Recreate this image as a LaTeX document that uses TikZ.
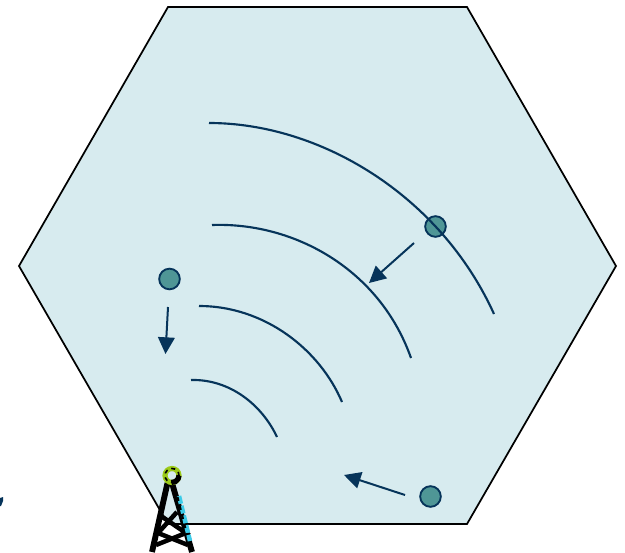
\documentclass[tikz,border=0pt]{standalone}
\usetikzlibrary{arrows.meta}
\definecolor{cellfill}{HTML}{D7EBEF}
\definecolor{navy}{HTML}{06345A}
\definecolor{dotfill}{HTML}{4F9696}
\definecolor{ringgreen}{HTML}{9CCB19}
\definecolor{legcyan}{HTML}{3CCBE8}
\tikzset{
  wave/.style={draw=navy,line width=1.6pt},
  move/.style={draw=navy,line width=1.5pt,-{Triangle[length=12.5pt,width=12.5pt]}},
  user/.style={circle,draw=navy,fill=dotfill,line width=1.4pt,minimum size=15.5pt,inner sep=0pt},
  mast/.style={draw=black,line width=4.4pt}
}
\begin{document}
\begin{tikzpicture}[x=0.75pt,y=-0.75pt]
\useasboundingbox (0,0) rectangle (625,553);
\draw[fill=cellfill,draw=black,line width=1.3pt] (168,7)--(467,7)--(616,266)--(467,524)--(168,524)--(19,266)--cycle;
\node[user] (u1) at (435.5,226.5) {};
\node[user] (u2) at (169.5,279) {};
\node[user] (u3) at (430.5,496.5) {};
\draw[wave] (209,123) .. controls (320,123) and (440,195) .. (494,314);
\draw[wave] (212,225) .. controls (295,222) and (380,270) .. (411,358);
\draw[wave] (199,306) .. controls (265,306) and (320,350) .. (342,402);
\draw[wave] (191,380) .. controls (230,379) and (262,405) .. (277,437);
\coordinate (a1s) at (414,243); \coordinate (a1e) at (369,283);
\coordinate (a2s) at (168,307); \coordinate (a2e) at (165.5,354);
\coordinate (a3s) at (405,495); \coordinate (a3e) at (344,475);
\draw[move] (a1s) -- (a1e);
\draw[move] (a2s) -- (a2e);
\draw[move] (a3s) -- (a3e);
% mast
\draw[mast] (167.5,483)--(152,552);
\draw[mast] (172,483)--(192,552);
\draw[mast,line width=3.4pt] (161,516)--(186,533)--(156,545);
\draw[mast,line width=3.4pt] (177,512)--(158,533)--(188,545);
\draw[legcyan,line width=3.4pt,dash pattern=on 6pt off 1.5pt] (179,496)--(190,541);
\draw[black,line width=1.6pt,dash pattern=on 3pt off 4pt] (177.5,497)--(187,535);
\draw[ringgreen,line width=3.9pt] (172,475.5) circle (7);
\draw[black,line width=3.9pt] (172,475.5) ++(0:7) arc[start angle=0,end angle=95,radius=7];
\draw[black,line width=1.2pt,dash pattern=on 3pt off 3pt] (172,475.5) circle (7);
% edge mark
\fill[navy] (0,498) -- (3,497) -- (3,501) -- (1,506) -- (0,506) -- cycle;
\end{tikzpicture}
\end{document}
